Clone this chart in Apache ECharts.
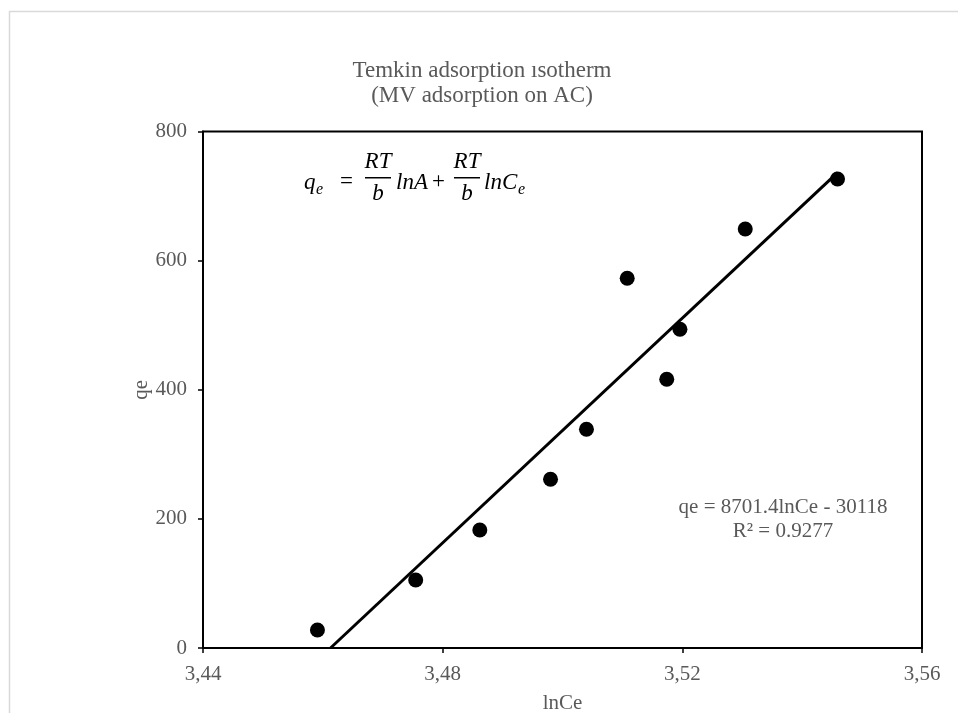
<!DOCTYPE html>
<html>
<head>
<meta charset="utf-8">
<title>Temkin adsorption isotherm</title>
<script src="https://cdn.jsdelivr.net/npm/echarts@6/dist/echarts.min.js"></script>
<style>
  html, body { margin: 0; padding: 0; background: #fff; }
  #chart { width: 958px; height: 713px; }
</style>
</head>
<body>
<div id="chart"></div>
<script>
// data
var lnCe = [3.4591, 3.4755, 3.4862, 3.4980, 3.5040, 3.5108, 3.5174, 3.5196, 3.5305, 3.5459];
var qe   = [27.9, 105.3, 182.8, 261.3, 338.8, 572.6, 416.2, 493.6, 649.0, 726.5];

// linear trendline as printed on the chart
var slope = 8701.4;
var intercept = -30118;
var eqText = 'qe = 8701.4lnCe - 30118';
var r2Text = 'R² = 0.9277';

var xTicks = { min: 3.44, max: 3.56, step: 0.04 };
var yTicks = { min: 0, max: 800, step: 200 };

var points = lnCe.map(function (x, i) { return [x, qe[i]]; });

// trendline from where it crosses qe = 0 up to the last point
var xStart = -intercept / slope;
var xEnd = Math.max.apply(null, lnCe);
var trend = [[xStart, 0], [xEnd, slope * xEnd + intercept]];

var serif = 'Liberation Serif';
var grey = '#595959';
var mathStyle = { fontFamily: serif, fontStyle: 'italic', fontSize: 23, fill: '#000' };

function t(x, y, text, extra) {
    var s = Object.assign({ x: x, y: y, text: text, textVerticalAlign: 'middle' }, mathStyle, extra || {});
    return { type: 'text', style: s, silent: true };
}

function label(x, y, text, size) {
    return {
        type: 'text', silent: true,
        style: {
            x: x, y: y, text: text, textAlign: 'center', textVerticalAlign: 'middle',
            fontFamily: serif, fontSize: size, fill: grey
        }
    };
}

var chart = echarts.init(document.getElementById('chart'));

chart.setOption({
    animation: false,
    backgroundColor: '#fff',
    grid: {
        left: 203, right: 36, top: 131.5, bottom: 65,
        outerBoundsMode: 'none',
        containLabel: false,
        show: true, borderColor: '#000', borderWidth: 2
    },
    xAxis: {
        type: 'value',
        min: xTicks.min, max: xTicks.max, interval: xTicks.step,
        name: 'lnCe', nameLocation: 'middle', nameGap: 45, nameMoveOverlap: false,
        nameTextStyle: { fontFamily: serif, fontSize: 21, color: grey },
        axisLine: { show: true, lineStyle: { color: '#000', width: 2 } },
        axisTick: { show: true, length: 5, lineStyle: { color: '#000', width: 1.5 } },
        axisLabel: {
            fontFamily: serif, fontSize: 21, color: grey, margin: 16,
            formatter: function (v) { return v.toFixed(2).replace('.', ','); }
        },
        splitLine: { show: false }
    },
    yAxis: {
        type: 'value',
        min: yTicks.min, max: yTicks.max, interval: yTicks.step,
        name: 'qe', nameLocation: 'middle', nameGap: 51, nameMoveOverlap: false,
        nameTextStyle: { fontFamily: serif, fontSize: 21, color: grey },
        axisLine: { show: true, lineStyle: { color: '#000', width: 2 } },
        axisTick: { show: true, length: 5, lineStyle: { color: '#000', width: 1.5 } },
        axisLabel: { fontFamily: serif, fontSize: 21, color: grey, margin: 16 },
        splitLine: { show: false }
    },
    series: [
        {
            type: 'line',
            data: trend,
            symbol: 'none',
            lineStyle: { color: '#000', width: 3 },
            silent: true,
            z: 2
        },
        {
            type: 'scatter',
            data: points,
            symbol: 'circle',
            symbolSize: 15,
            itemStyle: { color: '#000', opacity: 1 },
            z: 3
        }
    ],
    graphic: [
        // outer chart-area border
        {
            type: 'rect', left: 7, top: 9, silent: true,
            shape: { width: 970, height: 720 },
            style: { fill: 'none', stroke: '#d9d9d9', lineWidth: 1.5 }
        },
        // title
        label(482, 71, 'Temkin adsorption ısotherm', 23),
        label(482, 96, '(MV adsorption on AC)', 23),
        // regression text
        label(783, 507, eqText, 21),
        label(783, 531, r2Text, 21),
        // Temkin equation  q_e = RT/b lnA + RT/b lnC_e
        t(304, 183, 'q'),
        t(316, 190, 'e', { fontSize: 16 }),
        t(340, 182, '=', { fontStyle: 'normal' }),
        t(378, 162, 'RT', { textAlign: 'center' }),
        { type: 'rect', silent: true, shape: { x: 365, y: 177, width: 26, height: 1.5 }, style: { fill: '#000' } },
        t(378, 194, 'b', { textAlign: 'center' }),
        t(396, 183, 'lnA'),
        t(432, 182, '+', { fontStyle: 'normal' }),
        t(467, 162, 'RT', { textAlign: 'center' }),
        { type: 'rect', silent: true, shape: { x: 454, y: 177, width: 26, height: 1.5 }, style: { fill: '#000' } },
        t(467, 194, 'b', { textAlign: 'center' }),
        t(484, 183, 'lnC'),
        t(518, 190, 'e', { fontSize: 16 })
    ]
});
</script>
</body>
</html>
